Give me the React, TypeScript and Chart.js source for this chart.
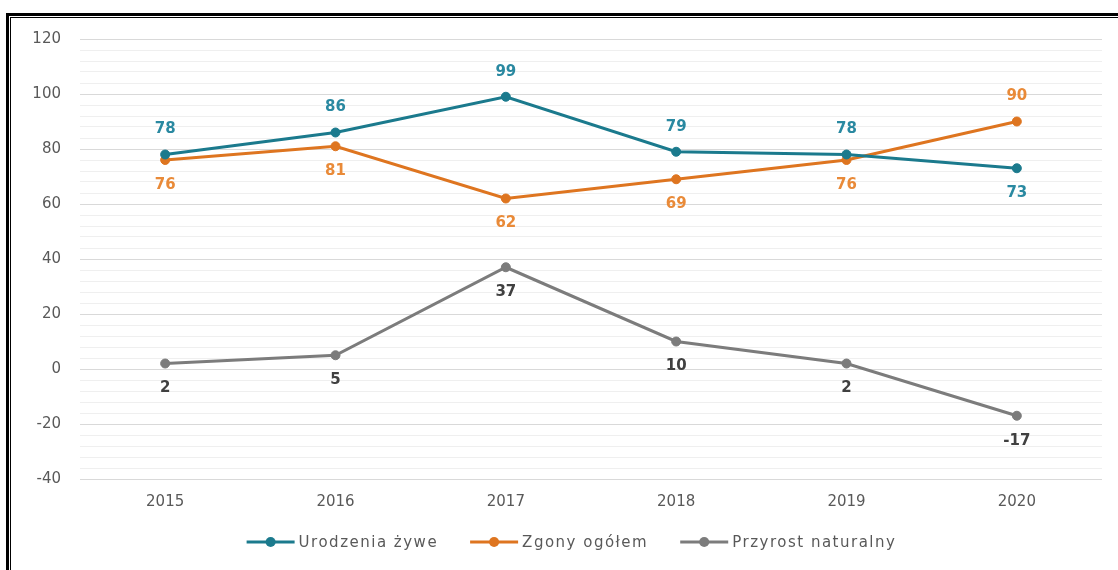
import React, { useEffect, useRef } from 'react';
import { Chart, registerables } from 'chart.js';

Chart.register(...registerables);

const years = ['2015', '2016', '2017', '2018', '2019', '2020'];
const births = [78, 86, 99, 79, 78, 73];
const deaths = [76, 81, 62, 69, 76, 90];
const growth = [2, 5, 37, 10, 2, -17];
const seriesNames = ['Urodzenia żywe', 'Zgony ogółem', 'Przyrost naturalny'];
const birthsLabelSide = ['above', 'above', 'above', 'above', 'above', 'below'];
const deathsLabelSide = ['below', 'below', 'below', 'below', 'below', 'above'];
const growthLabelSide = ['below', 'below', 'below', 'below', 'below', 'below'];
const yMin = -40;
const yMax = 120;
const yMinorStep = 4;
const yMajorStep = 20;

const FONT = '"DejaVu Sans", sans-serif';
const colors = {
  births: { line: '#1b7a8d', label: '#2a89a1' },
  deaths: { line: '#de7520', label: '#e98a38' },
  growth: { line: '#7c7c7c', label: '#404040' },
};

const dataLabelPlugin = {
  id: 'dataLabels',
  afterDatasetsDraw(chart: any) {
    const ctx = chart.ctx;
    ctx.save();
    ctx.font = `bold 15px ${FONT}`;
    ctx.textAlign = 'center';
    ctx.textBaseline = 'middle';
    chart.data.datasets.forEach((ds: any, i: number) => {
      const meta = chart.getDatasetMeta(i);
      meta.data.forEach((el: any, j: number) => {
        const side = ds.labelSides[j];
        const dy = side === 'above' ? -25 : 25;
        ctx.fillStyle = ds.labelColor;
        ctx.fillText(String(ds.data[j]), el.x, el.y + dy);
      });
    });
    ctx.restore();
  },
};

const legendPlugin = {
  id: 'customLegend',
  afterDraw(chart: any) {
    const ctx = chart.ctx;
    ctx.save();
    ctx.font = `15px ${FONT}`;
    try { (ctx as any).letterSpacing = '1.5px'; } catch (e) {}
    const markerW = 48;
    const gap = 4;
    const spacing = 32;
    const items = chart.data.datasets.map((ds: any) => ({
      text: ds.label,
      color: ds.borderColor,
      w: ctx.measureText(ds.label).width,
    }));
    const total = items.reduce((s: number, it: any) => s + markerW + gap + it.w, 0) + spacing * (items.length - 1);
    let x = 571.5 - total / 2;
    const y = 542;
    ctx.textBaseline = 'middle';
    ctx.textAlign = 'left';
    items.forEach((it: any) => {
      ctx.strokeStyle = it.color;
      ctx.lineWidth = 3;
      ctx.beginPath();
      ctx.moveTo(x, y);
      ctx.lineTo(x + markerW, y);
      ctx.stroke();
      ctx.fillStyle = it.color;
      ctx.beginPath();
      ctx.arc(x + markerW / 2, y, 5, 0, Math.PI * 2);
      ctx.fill();
      ctx.fillStyle = '#595959';
      ctx.fillText(it.text, x + markerW + gap, y + 1);
      x += markerW + gap + it.w + spacing;
    });
    ctx.restore();
  },
};

function ChartView() {
  const ref = useRef<HTMLCanvasElement>(null);
  useEffect(() => {
    if (!ref.current) return;
    const mk = (label: string, data: number[], c: any, sides: string[]) => ({
      label,
      data,
      borderColor: c.line,
      backgroundColor: c.line,
      pointBackgroundColor: c.line,
      pointBorderColor: c.line,
      pointRadius: 4.5,
      pointBorderWidth: 1,
      borderWidth: 3,
      tension: 0,
      labelColor: c.label,
      labelSides: sides,
    });
    const chart = new Chart(ref.current, {
      type: 'line',
      data: {
        labels: years,
        datasets: [
          mk(seriesNames[0], births, colors.births, birthsLabelSide),
          mk(seriesNames[1], deaths, colors.deaths, deathsLabelSide),
          mk(seriesNames[2], growth, colors.growth, growthLabelSide),
        ] as any,
      },
      options: {
        responsive: false,
        animation: false,
        layout: { padding: { left: 20, right: 16, top: 39, bottom: 51 } },
        plugins: {
          legend: { display: false },
          tooltip: { enabled: false },
        },
        scales: {
          x: {
            offset: true,
            grid: { display: false, drawTicks: false, offset: true },
            border: { display: false },
            ticks: { color: '#595959', font: { family: FONT, size: 15 }, padding: 14 },
            afterFit: (s: any) => { s.height = 40; },
          },
          y: {
            min: yMin,
            max: yMax,
            grid: {
              drawTicks: false,
              color: (c: any) => (c.tick && c.tick.value % yMajorStep === 0 ? '#d9d9d9' : '#efefef'),
              lineWidth: 1,
            },
            border: { display: false },
            ticks: {
              stepSize: yMinorStep,
              autoSkip: false,
              color: '#595959',
              font: { family: FONT, size: 15 },
              padding: 19,
              callback: (v: any) => (Number(v) % yMajorStep === 0 ? String(v) : ''),
            },
            afterFit: (s: any) => { s.width = 60; },
          },
        },
      },
      plugins: [dataLabelPlugin, legendPlugin],
    });
    return () => chart.destroy();
  }, []);
  return <canvas ref={ref} width={1118} height={570} style={{ display: 'block', width: 1118, height: 570 }} />;
}

export default function App() {
  return (
    <div style={{ position: 'absolute', left: 0, top: 0, width: 1118, height: 570, overflow: 'hidden', background: '#fff' }}>
      <ChartView />
      <div style={{ position: 'absolute', left: 6, top: 13, width: 1300, height: 800, borderTop: '3px solid #000', borderLeft: '3px solid #000', pointerEvents: 'none' }} />
      <div style={{ position: 'absolute', left: 10, top: 17, width: 1300, height: 800, borderTop: '1px solid #000', borderLeft: '1px solid #000', pointerEvents: 'none' }} />
    </div>
  );
}
